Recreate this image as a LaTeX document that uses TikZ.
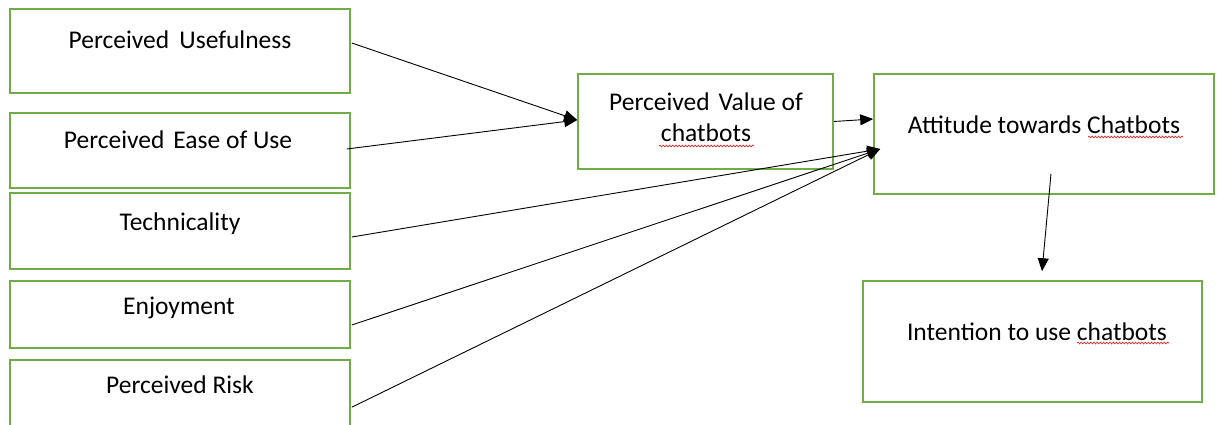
\documentclass[tikz,border=0pt]{standalone}
\usepackage{fontspec}
\setmainfont{Carlito}
\usetikzlibrary{arrows.meta,decorations.pathmorphing}
\definecolor{boxgreen}{HTML}{70AD47}
\definecolor{squiggle}{HTML}{E03030}
\tikzset{
  box/.style={draw=boxgreen, line width=1.6pt, fill=none, inner sep=0pt},
  lbl/.style={anchor=base, inner sep=0pt, font=\fontsize{25.5}{31}\selectfont, text=black},
  arr/.style={draw=black, line width=0.9pt, -{Triangle[length=13pt,width=11pt]}},
  spell/.style={draw=squiggle, line width=0.7pt, decorate,
    decoration={snake, amplitude=0.9pt, segment length=3.2pt}}
}
\begin{document}
\begin{tikzpicture}[x=1pt,y=-1pt]
  \clip (0,0) rectangle (1217,425);
  \fill[white] (0,0) rectangle (1217,425);

  % antecedent constructs
  \node[box, minimum width=340pt, minimum height=84pt]  (pu)   at (180,51)    {};
  \node[box, minimum width=340pt, minimum height=75pt]  (peou) at (180,150.5) {};
  \node[box, minimum width=340pt, minimum height=76pt]  (tech) at (180,231)   {};
  \node[box, minimum width=340pt, minimum height=67pt]  (enj)  at (180,314.5) {};
  \node[box, minimum width=340pt, minimum height=100pt] (pr)   at (180,410)   {};

  \node[lbl] (pu-t)   at (180,49)  {Perceived\hspace{0.4em}Usefulness};
  \node[lbl] (peou-t) at (178,148) {Perceived\hspace{0.35em}Ease of Use};
  \node[lbl] (tech-t) at (180,230) {Technicality};
  \node[lbl] (enj-t)  at (179,314) {Enjoyment};
  \node[lbl] (pr-t)   at (180,393) {Perceived Risk};

  % mediator and outcomes
  \node[box, minimum width=255pt, minimum height=95pt]  (pv)  at (705.5,121.5) {};
  \node[box, minimum width=340pt, minimum height=120pt] (att) at (1044,134)    {};
  \node[box, minimum width=339pt, minimum height=121pt] (int) at (1032.5,341.5) {};

  % the base of a two-line label sits on its last line
  \node[lbl, align=center] (pv-t) at (706,142) {Perceived\hspace{0.35em}Value of\\chatbots};
  \node[lbl] (att-t) at (1044,133) {Attitude towards Chatbots};
  \node[lbl] (int-t) at (1037,340) {Intention to use chatbots};

  % spell-check underlines
  \draw[spell] (659,146) -- (754,146);
  \draw[spell] (1088,137) -- (1183,137);
  \draw[spell] (1077,343) -- (1169,343);

  % paths
  \draw[arr] ([xshift=1pt,yshift=8pt]pu.east) -- ([yshift=1.5pt]pv.west);
  \draw[arr] ([xshift=-4pt,yshift=1.5pt]peou.east) -- ([yshift=1.5pt]pv.west);
  \draw[arr] (pv.east) -- ([yshift=15pt]att.west);
  \draw[arr] ([xshift=1pt,yshift=-6pt]tech.east) -- ([xshift=7pt,yshift=-15pt]att.west);
  \draw[arr] ([xshift=1pt,yshift=-10.5pt]enj.east) -- ([xshift=7pt,yshift=-15pt]att.west);
  \draw[arr] ([xshift=1pt,yshift=-48pt]pr.north east) -- ([xshift=7pt,yshift=-15pt]att.west);
  \draw[arr] ([xshift=7pt,yshift=21pt]att.south) -- ([xshift=9.5pt,yshift=9pt]int.north);
\end{tikzpicture}
\end{document}
